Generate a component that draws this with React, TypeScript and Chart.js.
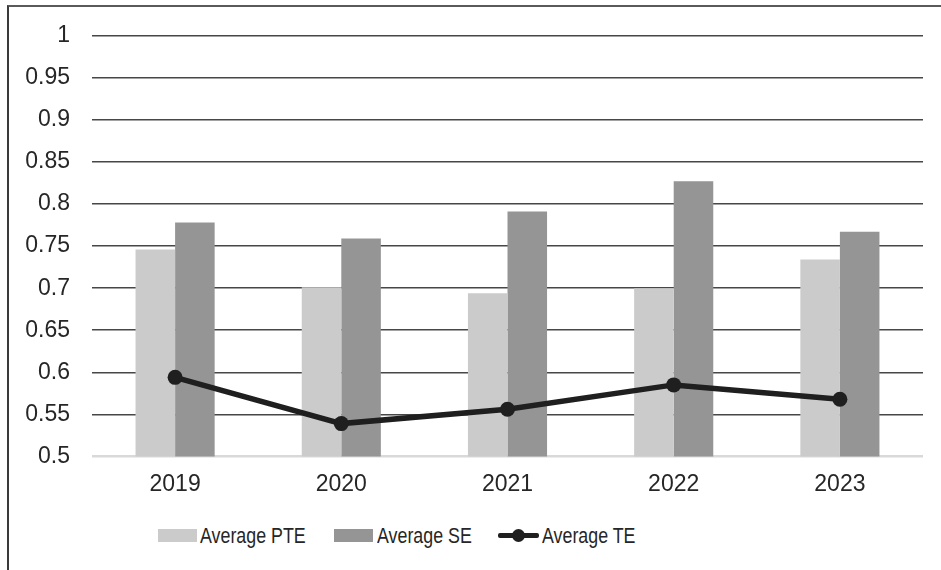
import React, { useEffect, useRef } from "react";
import { Chart, registerables } from "chart.js";

Chart.register(...registerables);

const years = ["2019", "2020", "2021", "2022", "2023"];
const avgPTE = [0.746, 0.701, 0.694, 0.7, 0.734];
const avgSE = [0.778, 0.759, 0.791, 0.827, 0.767];
const avgTE = [0.594, 0.539, 0.556, 0.585, 0.568];
const seriesNames = ["Average PTE", "Average SE", "Average TE"];

const PTE_COLOR = "#cbcbcb";
const SE_COLOR = "#959595";
const TE_COLOR = "#1f1f1f";
const TEXT_COLOR = "#262626";
const FONT = "'Liberation Sans', Arial, sans-serif";

export default function App() {
  const canvasRef = useRef<HTMLCanvasElement | null>(null);

  useEffect(() => {
    if (!canvasRef.current) return;
    const chart = new Chart(canvasRef.current, {
      data: {
        labels: years,
        datasets: [
          {
            type: "bar",
            label: seriesNames[0],
            data: avgPTE,
            backgroundColor: PTE_COLOR,
            order: 2,
            categoryPercentage: 0.476,
            barPercentage: 1,
          },
          {
            type: "bar",
            label: seriesNames[1],
            data: avgSE,
            backgroundColor: SE_COLOR,
            order: 2,
            categoryPercentage: 0.476,
            barPercentage: 1,
          },
          {
            type: "line",
            label: seriesNames[2],
            data: avgTE,
            borderColor: TE_COLOR,
            backgroundColor: TE_COLOR,
            borderWidth: 5.5,
            pointRadius: 7.5,
            pointBackgroundColor: TE_COLOR,
            pointBorderWidth: 0,
            tension: 0,
            order: 0,
          },
        ],
      },
      options: {
        responsive: false,
        animation: false,
        layout: { padding: { top: 34, right: 18, left: 0, bottom: 0 } },
        plugins: {
          legend: { display: false },
          tooltip: { enabled: false },
        },
        scales: {
          x: {
            grid: { display: false, drawTicks: false },
            border: { display: false },
            ticks: {
              padding: 14,
              color: TEXT_COLOR,
              font: { family: FONT, size: 23 },
            },
          },
          y: {
            min: 0.5,
            max: 1,
            afterFit: (scale: any) => {
              scale.width = 92;
            },
            border: { display: false },
            grid: {
              drawTicks: false,
              color: (ctx: any) =>
                Math.abs(ctx.tick.value - 0.5) < 1e-6 ? "#d9d9d9" : "#474747",
              lineWidth: (ctx: any) =>
                Math.abs(ctx.tick.value - 0.5) < 1e-6 ? 2.5 : 1.5,
            },
            ticks: {
              stepSize: 0.05,
              padding: 22,
              color: TEXT_COLOR,
              font: { family: FONT, size: 23 },
              callback: (v: any) => String(Number(Number(v).toFixed(2))),
            },
          },
        },
      },
    });
    return () => chart.destroy();
  }, []);

  const legendText: React.CSSProperties = {
    fontFamily: FONT,
    fontSize: 22,
    lineHeight: "23px",
    color: TEXT_COLOR,
    whiteSpace: "nowrap",
    display: "inline-block",
    transform: "scaleX(0.81)",
    transformOrigin: "left center",
  };
  const item = (left: number): React.CSSProperties => ({
    position: "absolute",
    left,
    top: 524,
    height: 23,
    display: "flex",
    alignItems: "center",
  });

  return (
    <div>
      <div
        style={{
          position: "absolute",
          left: 7,
          top: 5,
          width: 960,
          height: 600,
          borderLeft: "2px solid #3a3a3a",
          borderTop: "2px solid #5a5a5a",
          boxSizing: "border-box",
        }}
      />
      <div style={{ position: "absolute", left: 0, top: 0, width: 941, height: 512 }}>
        <canvas ref={canvasRef} width={941} height={512} />
      </div>
      <div style={item(158)}>
        <div style={{ width: 39, height: 13, background: PTE_COLOR, marginRight: 3 }} />
        <span style={legendText}>{seriesNames[0]}</span>
      </div>
      <div style={item(334)}>
        <div style={{ width: 39, height: 13, background: SE_COLOR, marginRight: 4 }} />
        <span style={legendText}>{seriesNames[1]}</span>
      </div>
      <div style={item(498)}>
        <div style={{ position: "relative", width: 41, height: 13, marginRight: 3 }}>
          <div
            style={{
              position: "absolute",
              left: 0,
              top: 4,
              width: 41,
              height: 5,
              background: TE_COLOR,
              borderRadius: 2,
            }}
          />
          <div
            style={{
              position: "absolute",
              left: 14,
              top: 0,
              width: 13,
              height: 13,
              borderRadius: "50%",
              background: TE_COLOR,
            }}
          />
        </div>
        <span style={legendText}>{seriesNames[2]}</span>
      </div>
    </div>
  );
}
